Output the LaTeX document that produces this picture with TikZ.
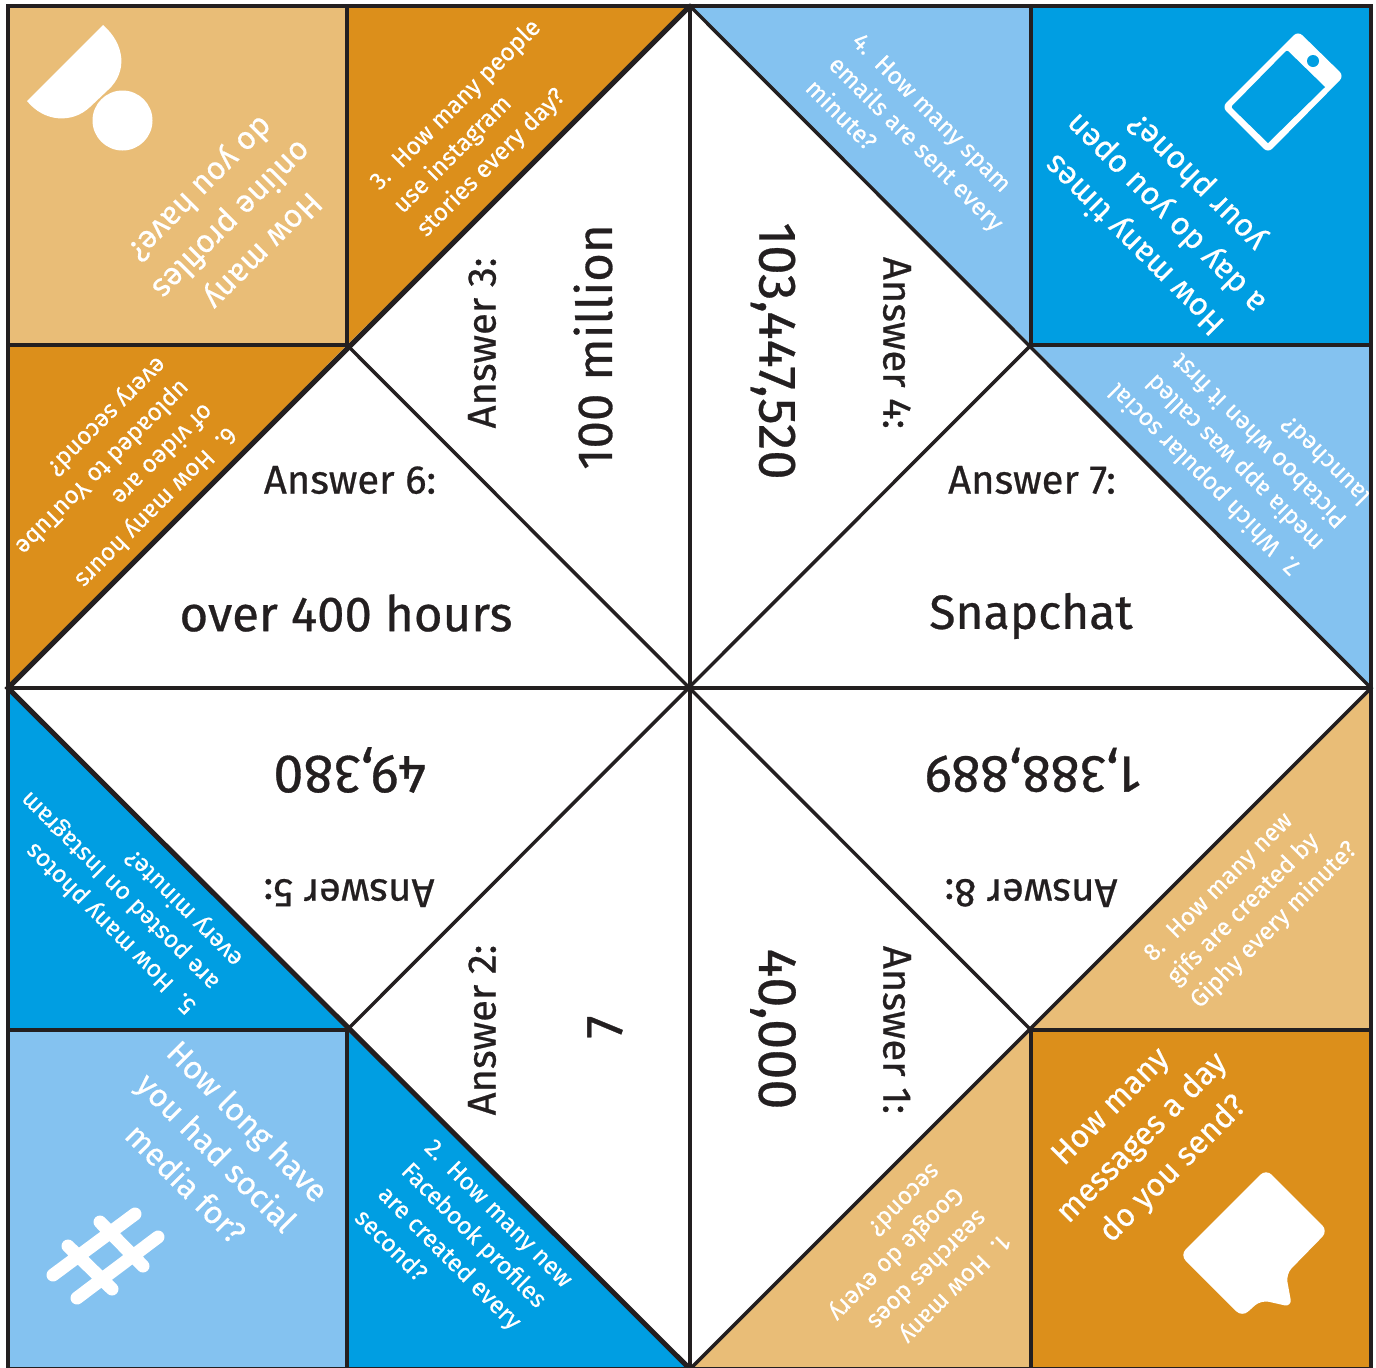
\documentclass[tikz,border=0pt]{standalone}
\usepackage{fontspec}
\setmainfont{Fira Sans}
\newfontfamily\ansfont[FakeBold=0.6]{Fira Sans}
\newfontfamily\qfont[FakeBold=0.4]{Fira Sans}
\definecolor{tanc}{HTML}{E9BD77}
\definecolor{orangec}{HTML}{DC8F1B}
\definecolor{bluec}{HTML}{009EE2}
\definecolor{lightc}{HTML}{84C2F0}
\definecolor{inkc}{HTML}{231F20}
\tikzset{
  fold/.style={draw=inkc,line width=1.75pt,line cap=round},
  heavyfold/.style={draw=inkc,line width=2.5pt,line cap=round},
  anslabel/.style={inner sep=0pt,text=inkc,font=\ansfont\fontsize{20}{22}\selectfont},
  ansvalue/.style={inner sep=0pt,text=inkc,font=\ansfont\fontsize{24.6}{28}\selectfont},
  ansdigits/.style={inner sep=0pt,text=inkc,font=\ansfont\fontsize{#1}{30}\selectfont},
  question/.style={inner sep=0pt,text=white,align=center,font=\qfont\fontsize{16}{22}\selectfont},
  clue/.style={inner sep=0pt,text=white,align=left,anchor=west,font=\qfont\fontsize{12.2}{16.5}\selectfont},
  iconstroke/.style={line width=6.5pt,draw=white,line cap=round}
}
\begin{document}
\begin{tikzpicture}[x=0.5pt,y=-0.5pt]
\useasboundingbox (0,0) rectangle (1376,1367);
\clip (0,0) rectangle (1376,1367);
% named fold points
\coordinate (c) at (690,688);
\coordinate (top) at (690,6);
\coordinate (bot) at (690,1369);
\coordinate (lft) at (8,688);
\coordinate (rgt) at (1371,688);
\coordinate (nw) at (347,345);
\coordinate (ne) at (1031,345);
\coordinate (sw) at (347,1030);
\coordinate (se) at (1031,1030);
% colour panels
\fill[tanc] (8,6) rectangle (nw);
\fill[bluec] (1031,6) rectangle (1371,345);
\fill[lightc] (8,1030) rectangle (347,1369);
\fill[orangec] (se) rectangle (1371,1369);
\fill[orangec] (347,6) -- (top) -- (nw) -- cycle;
\fill[lightc] (top) -- (1031,6) -- (ne) -- cycle;
\fill[lightc] (ne) -- (1371,345) -- (rgt) -- cycle;
\fill[orangec] (8,345) -- (nw) -- (lft) -- cycle;
\fill[bluec] (lft) -- (sw) -- (8,1030) -- cycle;
\fill[bluec] (sw) -- (bot) -- (347,1369) -- cycle;
\fill[tanc] (bot) -- (se) -- (1031,1369) -- cycle;
\fill[tanc] (se) -- (1371,1030) -- (rgt) -- cycle;
% folds
\draw[fold] (8,6) rectangle (1371,1369);
\draw[fold] (top) -- (bot);
\draw[fold] (lft) -- (rgt);
\draw[fold] (347,6) -- (nw) (1031,6) -- (ne) (347,1369) -- (sw) (1031,1369) -- (se);
\draw[fold] (8,345) -- (nw) (1371,345) -- (ne) (8,1030) -- (sw) (1371,1030) -- (se);
\draw[fold] (top) -- (rgt) -- (bot);
\draw[heavyfold] (bot) -- (lft) -- (top);
\draw[fold] (nw) -- (se) (ne) -- (sw);
% icons
\fill[white] (27,101) -- (103,25) .. controls (125,44) and (128,72) .. (108,90) -- (90,107) .. controls (72,124) and (44,122) .. cycle;
\fill[white] (122.5,120.5) circle (15pt);
\fill[white,rounded corners=3pt] (1298,31) -- (1344,76) -- (1268,153) -- (1222,107) -- cycle;
\fill[bluec] (1287,50) -- (1325,87) -- (1268,143) [rounded corners=1pt] -- (1231,107) -- cycle;
\fill[bluec] (1313,61) circle (3pt);
\fill[white,rounded corners=4pt] (1266,1169) -- (1328,1231) -- (1286,1274) -- (1292,1307) -- (1261,1300) -- (1242,1317) -- (1180,1255) -- cycle;
\draw[iconstroke] (53,1275) -- (135,1214) (77,1298) -- (158,1237) (68,1246) -- (112,1289) (100,1222) -- (143,1266);
% corner questions
\node[question,rotate=225] (q1) at (230,218) {How many\\online profiles\\do you have?};
\node[question,rotate=135] (q2) at (1166,213) {How many times\\a day do you open\\your phone?};
\node[question,rotate=45] (q3) at (1143,1139) {How many\\messages a day\\do you send?};
\node[question,rotate=-45] (q4) at (217,1152) {How long have\\you had social\\media for?};
% numbered clues
\node[clue,rotate=45] (c3) at (398,210) {3.\ \ How many people\\use instagram\\stories every day?};
\node[clue,rotate=-45] (c4) at (833,60) {4.\ \ How many spam\\emails are sent every\\minute?};
\node[clue,rotate=135] (c7) at (1330,537) {7.\ \ Which popular social\\media app was called\\Pictaboo when it first\\launched?};
\node[clue,rotate=225] (c6) at (197,395) {6.\ \ How many hours\\of video are\\uploaded to YouTube\\every second?};
\node[clue,rotate=135] (c5) at (216,986) {5.\ \ How many photos\\are posted on Instagram\\every minute?};
\node[clue,rotate=45] (c8) at (1172,982) {8.\ \ How many new\\gifs are created by\\Giphy every minute?};
\node[clue,rotate=-45] (c2) at (394,1178) {2.\ \ How many new\\Facebook profiles\\are created every\\second?};
\node[clue,rotate=225] (c1) at (972,1203) {1.\ \ How many\\searches does\\Google do every\\second?};
% answers
\node[anslabel] (a6) at (350,480) {Answer 6:};
\node[ansvalue] (v6) at (346,613) {over 400 hours};
\node[anslabel] (a7) at (1032,480) {Answer 7:};
\node[ansdigits=24] (v7) at (1031,616) {Snapchat};
\node[anslabel,rotate=90] (a3) at (482,343) {Answer 3:};
\node[ansvalue,rotate=90] (v3) at (593,347) {100 million};
\node[anslabel,rotate=-90] (a4) at (897,343) {Answer 4:};
\node[ansdigits=26.4,rotate=-90] (v4) at (773,351) {103,447,520};
\node[anslabel,rotate=180] (a5) at (349,893) {Answer 5:};
\node[ansdigits=27,rotate=180] (v5) at (350,770) {49,380};
\node[anslabel,rotate=180] (a8) at (1031,893) {Answer 8:};
\node[ansdigits=26.2,rotate=180] (v8) at (1033,770) {1,388,889};
\node[anslabel,rotate=90] (a2) at (482,1030) {Answer 2:};
\node[ansdigits=26,rotate=90] (v2) at (605,1027) {7};
\node[anslabel,rotate=-90] (a1) at (897,1030) {Answer 1:};
\node[ansdigits=27,rotate=-90] (v1) at (773,1029) {40,000};
\end{tikzpicture}
\end{document}
